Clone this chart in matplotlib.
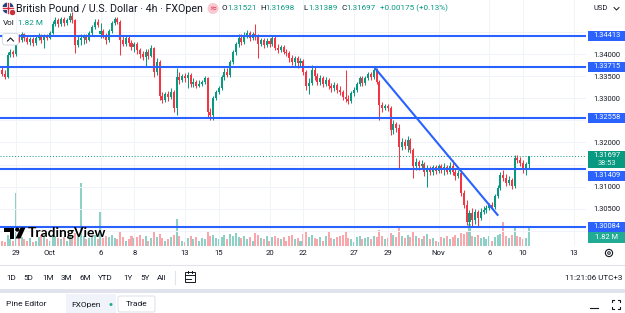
import matplotlib
matplotlib.use("Agg")
import matplotlib.pyplot as plt
import matplotlib.transforms as mtransforms
from matplotlib.patches import Rectangle, Circle, Polygon, FancyBboxPatch
from matplotlib.lines import Line2D
import numpy as np

plt.rcParams['font.family'] = ['Roboto', 'DejaVu Sans']

# ---------------- data (GBP/USD, 4h candles) ----------------
opens = [1.33642, 1.33552, 1.33484, 1.33982, 1.34050, 1.34005, 1.34413, 1.34322, 1.34458, 1.34368,
         1.34277, 1.34345, 1.34254, 1.34368, 1.34436, 1.34322, 1.34413, 1.34368, 1.34481, 1.34685,
         1.34776, 1.34685, 1.34798, 1.34708, 1.34776, 1.34866, 1.34776, 1.34209, 1.34322, 1.34368,
         1.34413, 1.34322, 1.34481, 1.34617, 1.34730, 1.34458, 1.34526, 1.34413, 1.34322, 1.34526,
         1.34708, 1.34798, 1.34730, 1.34322, 1.34232, 1.34368, 1.34254, 1.34164, 1.34232, 1.34096,
         1.34005, 1.33937, 1.34050, 1.33960, 1.34141, 1.33597, 1.33824, 1.33053, 1.32962, 1.33098,
         1.33030, 1.33144, 1.32781, 1.33484, 1.33416, 1.33506, 1.33461, 1.33529, 1.33325, 1.33370,
         1.33280, 1.33325, 1.33370, 1.33461, 1.32690, 1.32622, 1.33008, 1.33144, 1.33234, 1.33484,
         1.33597, 1.33529, 1.33824, 1.34050, 1.34232, 1.34368, 1.34277, 1.34413, 1.34481, 1.34368,
         1.34458, 1.34413, 1.34232, 1.34322, 1.34209, 1.34300, 1.34232, 1.34368, 1.34141, 1.34096,
         1.34164, 1.34050, 1.34028, 1.33914, 1.33824, 1.33914, 1.33801, 1.33846, 1.33597, 1.33280,
         1.33348, 1.33642, 1.33506, 1.33370, 1.33461, 1.33325, 1.33416, 1.33280, 1.33234, 1.33302,
         1.33189, 1.33144, 1.33030, 1.32985, 1.32940, 1.33121, 1.33189, 1.33325, 1.33461, 1.33348,
         1.33461, 1.33552, 1.33484, 1.33642, 1.33370, 1.32849, 1.32781, 1.32826, 1.32781, 1.32282,
         1.32418, 1.32328, 1.31897, 1.32010, 1.31920, 1.32056, 1.31829, 1.31466, 1.31557, 1.31466,
         1.31512, 1.31330, 1.31421, 1.31330, 1.31444, 1.31353, 1.31466, 1.31376, 1.31444, 1.31330,
         1.31466, 1.31330, 1.31240, 1.31308, 1.30854, 1.30582, 1.30197, 1.30401, 1.30242, 1.30424,
         1.30288, 1.30424, 1.30469, 1.30514, 1.30582, 1.30537, 1.30786, 1.30968, 1.31262, 1.31194,
         1.31081, 1.31149, 1.31013, 1.31648, 1.31602, 1.31534, 1.31376, 1.31521]
highs = [1.33733, 1.33642, 1.34050, 1.34118, 1.34096, 1.34481, 1.34458, 1.34504, 1.34481, 1.34413,
         1.34390, 1.34390, 1.34413, 1.34481, 1.34458, 1.34458, 1.34458, 1.34526, 1.34753, 1.34844,
         1.34821, 1.34844, 1.34844, 1.34821, 1.34934, 1.34957, 1.34798, 1.34436, 1.34458, 1.34458,
         1.34458, 1.34526, 1.34662, 1.34798, 1.34798, 1.34708, 1.34572, 1.34481, 1.34572, 1.34753,
         1.34844, 1.34844, 1.34776, 1.34413, 1.34413, 1.34413, 1.34322, 1.34277, 1.34277, 1.34141,
         1.34073, 1.34118, 1.34118, 1.34209, 1.34164, 1.33914, 1.33869, 1.33144, 1.33144, 1.33166,
         1.33234, 1.33189, 1.33688, 1.33597, 1.33552, 1.33574, 1.33597, 1.33574, 1.33461, 1.33416,
         1.33416, 1.33416, 1.33506, 1.33484, 1.32781, 1.33053, 1.33189, 1.33280, 1.33529, 1.33688,
         1.33688, 1.33869, 1.34096, 1.34277, 1.34458, 1.34458, 1.34504, 1.34549, 1.34526, 1.34504,
         1.34685, 1.34458, 1.34368, 1.34368, 1.34368, 1.34368, 1.34413, 1.34413, 1.34232, 1.34209,
         1.34209, 1.34118, 1.34073, 1.33982, 1.33960, 1.33960, 1.33914, 1.33892, 1.33642, 1.33461,
         1.33756, 1.33733, 1.33574, 1.33529, 1.33506, 1.33484, 1.33461, 1.33348, 1.33370, 1.33348,
         1.33280, 1.33189, 1.33642, 1.33076, 1.33166, 1.33257, 1.33370, 1.33506, 1.33506, 1.33506,
         1.33597, 1.33597, 1.33710, 1.33688, 1.33416, 1.32917, 1.32872, 1.32872, 1.32826, 1.32509,
         1.32464, 1.32418, 1.32101, 1.32078, 1.32146, 1.32101, 1.31874, 1.31648, 1.31602, 1.31602,
         1.31557, 1.31489, 1.31466, 1.31489, 1.31489, 1.31512, 1.31512, 1.31534, 1.31489, 1.31557,
         1.31602, 1.31421, 1.31376, 1.31330, 1.30922, 1.30696, 1.30469, 1.30514, 1.30492, 1.30469,
         1.30514, 1.30560, 1.30582, 1.30628, 1.30650, 1.30832, 1.31036, 1.31330, 1.31376, 1.31285,
         1.31240, 1.31194, 1.31716, 1.31716, 1.31670, 1.31602, 1.31557, 1.31698]
lows = [1.33506, 1.33438, 1.33461, 1.33937, 1.33937, 1.33960, 1.34277, 1.34277, 1.34300, 1.34232,
        1.34209, 1.34186, 1.34209, 1.34322, 1.34254, 1.34141, 1.34322, 1.34345, 1.34458, 1.34640,
        1.34617, 1.34640, 1.34640, 1.34662, 1.34730, 1.34708, 1.34028, 1.34164, 1.34209, 1.34232,
        1.34254, 1.34300, 1.34436, 1.34572, 1.34617, 1.34368, 1.34368, 1.34232, 1.34277, 1.34481,
        1.34662, 1.34685, 1.33982, 1.34186, 1.34186, 1.34186, 1.34096, 1.34050, 1.34005, 1.33914,
        1.33869, 1.33733, 1.33892, 1.33937, 1.33484, 1.33529, 1.32962, 1.32894, 1.32917, 1.32940,
        1.32985, 1.32690, 1.32622, 1.33325, 1.33370, 1.33370, 1.33234, 1.33257, 1.33257, 1.33234,
        1.33257, 1.33280, 1.33325, 1.32554, 1.32509, 1.32509, 1.32962, 1.33098, 1.33189, 1.33416,
        1.33484, 1.33484, 1.33778, 1.33982, 1.34164, 1.34209, 1.34232, 1.34368, 1.34300, 1.34322,
        1.34322, 1.33914, 1.34186, 1.34141, 1.34164, 1.34164, 1.34186, 1.34096, 1.34028, 1.34050,
        1.34005, 1.33960, 1.33824, 1.33756, 1.33733, 1.33688, 1.33733, 1.33529, 1.33189, 1.33098,
        1.33302, 1.33416, 1.33302, 1.33302, 1.33257, 1.33280, 1.33212, 1.33144, 1.33166, 1.33121,
        1.33076, 1.32962, 1.32917, 1.32872, 1.32894, 1.33053, 1.33144, 1.33280, 1.33280, 1.33302,
        1.33416, 1.33416, 1.33438, 1.33325, 1.32509, 1.32690, 1.32736, 1.32713, 1.32169, 1.32192,
        1.32237, 1.31421, 1.31829, 1.31852, 1.31784, 1.31761, 1.31194, 1.31376, 1.31376, 1.31421,
        1.31240, 1.30990, 1.31262, 1.31262, 1.31285, 1.31308, 1.31308, 1.31262, 1.31285, 1.31285,
        1.31262, 1.31149, 1.31194, 1.30786, 1.30514, 1.30129, 1.30106, 1.30106, 1.30152, 1.30106,
        1.30242, 1.30378, 1.30401, 1.30469, 1.30492, 1.30492, 1.30741, 1.30922, 1.31126, 1.31013,
        1.31036, 1.30945, 1.30968, 1.31534, 1.31466, 1.31308, 1.31262, 1.31389]
closes = [1.33552, 1.33484, 1.33982, 1.34050, 1.34005, 1.34413, 1.34322, 1.34458, 1.34368, 1.34277,
          1.34345, 1.34254, 1.34368, 1.34436, 1.34322, 1.34413, 1.34368, 1.34481, 1.34685, 1.34776,
          1.34685, 1.34798, 1.34708, 1.34776, 1.34866, 1.34776, 1.34209, 1.34322, 1.34368, 1.34413,
          1.34322, 1.34481, 1.34617, 1.34730, 1.34662, 1.34526, 1.34413, 1.34322, 1.34526, 1.34708,
          1.34798, 1.34730, 1.34322, 1.34232, 1.34368, 1.34254, 1.34164, 1.34232, 1.34096, 1.34005,
          1.33937, 1.34050, 1.33960, 1.34141, 1.33597, 1.33824, 1.33053, 1.32962, 1.33098, 1.33030,
          1.33144, 1.32781, 1.33484, 1.33416, 1.33506, 1.33461, 1.33529, 1.33325, 1.33370, 1.33280,
          1.33325, 1.33370, 1.33461, 1.32690, 1.32622, 1.33008, 1.33144, 1.33234, 1.33484, 1.33597,
          1.33529, 1.33824, 1.34050, 1.34232, 1.34368, 1.34277, 1.34413, 1.34481, 1.34368, 1.34458,
          1.34413, 1.34232, 1.34322, 1.34209, 1.34300, 1.34232, 1.34368, 1.34141, 1.34096, 1.34164,
          1.34050, 1.34028, 1.33914, 1.33824, 1.33914, 1.33801, 1.33846, 1.33597, 1.33280, 1.33348,
          1.33642, 1.33506, 1.33370, 1.33461, 1.33325, 1.33416, 1.33280, 1.33234, 1.33302, 1.33189,
          1.33144, 1.33030, 1.32985, 1.32940, 1.33121, 1.33189, 1.33325, 1.33461, 1.33348, 1.33461,
          1.33552, 1.33484, 1.33642, 1.33370, 1.32849, 1.32781, 1.32826, 1.32781, 1.32282, 1.32418,
          1.32328, 1.31897, 1.32010, 1.31920, 1.32056, 1.31829, 1.31466, 1.31557, 1.31466, 1.31512,
          1.31330, 1.31421, 1.31330, 1.31444, 1.31353, 1.31466, 1.31376, 1.31444, 1.31330, 1.31466,
          1.31330, 1.31240, 1.31308, 1.30854, 1.30582, 1.30197, 1.30401, 1.30242, 1.30424, 1.30288,
          1.30424, 1.30469, 1.30514, 1.30582, 1.30537, 1.30786, 1.30968, 1.31262, 1.31194, 1.31081,
          1.31149, 1.31013, 1.31648, 1.31602, 1.31534, 1.31376, 1.31512, 1.31697]
volumes_m = [0.5, 0.4, 1.0, 0.6, 0.5, 4.8, 0.9, 0.8, 0.6, 0.5,
             0.7, 0.4, 0.5, 0.8, 1.0, 0.9, 0.6, 0.5, 1.1, 0.9,
             0.7, 0.6, 0.8, 0.5, 0.9, 0.7, 1.2, 0.8, 5.7, 0.9,
             0.6, 0.7, 0.8, 1.0, 0.6, 3.1, 0.7, 0.9, 0.8, 1.0,
             0.7, 0.6, 1.4, 0.8, 0.5, 0.6, 0.9, 0.7, 0.8, 1.0,
             0.6, 0.9, 0.5, 0.7, 1.3, 0.8, 1.1, 0.7, 0.5, 0.6,
             0.8, 1.0, 2.5, 0.9, 0.5, 0.4, 0.7, 0.9, 0.6, 0.8,
             0.5, 0.7, 0.6, 1.3, 0.9, 1.0, 0.7, 0.6, 0.8, 1.0,
             0.6, 1.1, 0.9, 1.2, 0.8, 0.7, 0.9, 0.6, 0.8, 0.5,
             1.2, 1.0, 0.7, 0.6, 0.9, 0.5, 0.8, 0.9, 0.7, 0.6,
             0.8, 0.5, 0.9, 1.0, 0.6, 0.7, 0.5, 1.1, 1.3, 0.8,
             1.0, 0.7, 0.6, 0.8, 0.5, 0.9, 1.3, 0.7, 0.6, 0.8,
             0.9, 1.0, 1.4, 0.7, 0.6, 0.4, 0.8, 0.9, 0.6, 0.7,
             0.8, 0.6, 0.9, 0.8, 1.5, 0.9, 0.6, 0.7, 1.2, 1.0,
             0.8, 1.6, 0.9, 0.7, 1.0, 0.8, 1.3, 0.9, 0.7, 0.6,
             0.9, 1.1, 0.6, 0.7, 0.5, 0.4, 0.8, 0.7, 0.9, 0.6,
             0.8, 1.0, 0.7, 1.2, 1.1, 1.4, 2.0, 0.9, 0.8, 1.0,
             0.7, 0.8, 0.6, 0.9, 0.5, 0.8, 1.0, 1.1, 2.2, 0.9,
             0.7, 1.0, 1.8, 0.9, 0.8, 0.6, 0.7, 1.82]

levels = [1.34413, 1.33715, 1.32558, 1.31409, 1.30084]
level_labels = ["1.34413", "1.33715", "1.32558", "1.31409", "1.30084"]
trend_x = [132.5, 176.2]
trend_y = [1.33681, 1.30340]

date_ticks = [5, 17, 35, 47, 65, 77, 95, 107, 125, 137, 155, 173, 185, 203]
date_labels = ["29", "Oct", "6", "8", "13", "15", "20", "22", "27", "29", "Nov", "6", "10", "13"]
price_ticks = [1.300, 1.305, 1.310, 1.315, 1.320, 1.325, 1.330, 1.335, 1.340, 1.345]
price_tick_labels = ["", "1.30500", "1.31000", "", "1.32000", "", "1.33000", "1.33500", "1.34000", ""]

ohlc_header = [("O", "1.31521"), ("H", "1.31698"), ("L", "1.31389"), ("C", "1.31697")]
change_text = "+0.00175 (+0.13%)"
last_volume_text = "1.82 M"
countdown = "38:53"
clock_text = "11:21:06 UTC+3"
range_buttons = ["1D", "5D", "1M", "3M", "6M", "YTD", "1Y", "5Y", "All"]

# ---------------- style ----------------
GREEN = '#089981'
RED = '#f23645'
BLUE = '#2962ff'
TEXT = '#131722'
GRID = '#f0f3fa'
W, H = 625, 313
IDT = mtransforms.IdentityTransform()

fig = plt.figure(figsize=(W / 100, H / 100), dpi=100)
fig.patch.set_facecolor('white')

AX_BOTTOM = 246
AX_RIGHT = 586
ax = fig.add_axes([0, 1 - AX_BOTTOM / H, AX_RIGHT / W, AX_BOTTOM / H])
axv = ax.twinx()
ax.set_zorder(axv.get_zorder() + 1)
ax.patch.set_visible(False)

n = len(closes)
idx = np.arange(n)
o = np.array(opens); c = np.array(closes); hi = np.array(highs); lo = np.array(lows)
up = c >= o
cols = np.where(up, GREEN, RED)

# volume
vcols = np.where(up, '#8dd0c5', '#f9a6ad')
axv.bar(idx, volumes_m, width=0.72, color=vcols, linewidth=0)
axv.set_ylim(0, 22.4)
axv.set_axis_off()

# candles
ax.vlines(idx, lo, hi, colors=cols, linewidth=0.75, zorder=3)
body_lo = np.minimum(o, c)
body_h = np.maximum(np.abs(c - o), 0.00005)
ax.bar(idx, body_h, bottom=body_lo, width=0.72, color=cols, linewidth=0, zorder=4)

# levels, trend, last price
for lv in levels:
    ax.axhline(lv, color=BLUE, lw=1.5, zorder=5)
ax.plot(trend_x, trend_y, color=BLUE, lw=1.5, zorder=5, solid_capstyle='butt')
ax.axhline(closes[-1], color=GREEN, lw=0.7, ls=(0, (1, 2)), zorder=2)

ax.set_xlim(-0.68, 207.36)
ax.set_ylim(1.29653, 1.35229)
ax.set_xticks(date_ticks)
ax.set_xticklabels(date_labels)
ax.yaxis.tick_right()
ax.set_yticks(price_ticks)
ax.set_yticklabels(price_tick_labels)
ax.tick_params(axis='x', length=0, pad=3, labelsize=5.6, labelcolor=TEXT)
ax.tick_params(axis='y', length=0, pad=5, labelsize=5.4, labelcolor=TEXT)
ax.grid(True, color=GRID, lw=0.7, zorder=0)
for s in ax.spines.values():
    s.set_visible(False)


def ypx(price):
    """top-based pixel row of a price, via the axes' data transform"""
    return H - ax.transData.transform((0, price))[1]


def T(x, y, s, size, color=TEXT, ha='left', va='center', weight='normal', family=None, z=10):
    kw = {}
    if family:
        kw['family'] = family
    fig.text(x, H - y, s, transform=IDT, fontsize=size, color=color, ha=ha, va=va,
             fontweight=weight, zorder=z, **kw)


def R(x0, y0, w, h, fc, ec='none', lw=0, z=8):
    fig.add_artist(Rectangle((x0, H - y0 - h), w, h, transform=IDT, facecolor=fc,
                             edgecolor=ec, linewidth=lw, zorder=z))


def L(xs, ys, color, lw=1.0, z=9):
    fig.add_artist(Line2D(xs, [H - y for y in ys], transform=IDT, color=color, lw=lw, zorder=z))


# price scale boxes
label_shift = [0, 0, 0, 7, 0]
for lv, lab, sh in zip(levels, level_labels, label_shift):
    yc = ypx(lv) + sh
    R(588, yc - 5, 37, 10, BLUE)
    T(606.5, yc, lab, 5.4, color='white', ha='center')
yl = ypx(closes[-1])
R(588, yl - 4.5, 37, 17, GREEN)
T(606.5, yl, f"{closes[-1]:.5f}", 5.4, color='white', ha='center')
T(606.5, yl + 8, countdown, 5.4, color='#e6f5f2', ha='center')
R(588, 232, 37, 11, '#22ab94')
T(606.5, 237.5, last_volume_text, 5.4, color='white', ha='center')

# header
fig.add_artist(Circle((8, H - 8), 6, transform=IDT, facecolor='#27407e', edgecolor='white', lw=0.5, zorder=9))
L([3, 13], [8, 8], 'white', 2.2, 10)
L([8, 8], [3, 13], 'white', 2.2, 10)
L([3, 13], [8, 8], '#d8283a', 1.0, 11)
L([8, 8], [3, 13], '#d8283a', 1.0, 11)
fig.add_artist(Circle((12.5, H - 12.5), 3.2, transform=IDT, facecolor='#c8313e', edgecolor='white', lw=0.6, zorder=12))
T(16, 8.5, "British Pound / U.S. Dollar · 4h · FXOpen", 7.7)
fig.add_artist(Circle((213, H - 8.5), 5.5, transform=IDT, facecolor='#f8c9d2', edgecolor='none', zorder=9))
T(213, 8.5, "≈", 6.2, color='#e0354b', ha='center', family=['DejaVu Sans'])
xs_letter = [222, 260, 303, 341]
for (lt, val), xl in zip(ohlc_header, xs_letter):
    T(xl, 8.5, lt, 5.9)
    T(xl + 4.9, 8.5, val, 5.9, color=GREEN)
T(380, 8.5, change_text, 5.9, color=GREEN)
T(593, 8.5, "USD", 5.4)
L([614, 616.5, 619], [7.5, 10, 7.5], TEXT, 0.7)
T(3, 23, "Vol", 5.9)
T(18.5, 23, last_volume_text, 5.9, color=GREEN)

# collapse button
fig.add_artist(FancyBboxPatch((2.5, H - 45), 16, 11.5, boxstyle='round,pad=0,rounding_size=2.5',
                              transform=IDT, facecolor='white', edgecolor='#d1d4dc', lw=0.6, zorder=9))
L([7.5, 10.5, 13.5], [41, 38, 41], TEXT, 0.8, 10)

# TradingView logo
fig.add_artist(Polygon([(3.5, H - 227.5), (14, H - 227.5), (14, H - 238.5), (9.5, H - 238.5),
                        (9.5, H - 231.5), (3.5, H - 231.5)], closed=True, transform=IDT,
                       facecolor='black', edgecolor='none', zorder=9))
fig.add_artist(Circle((17.3, H - 229.6), 2.1, transform=IDT, facecolor='black', edgecolor='none', zorder=9))
fig.add_artist(Polygon([(20.5, H - 227.5), (25.5, H - 227.5), (20.5, H - 238.5), (15.5, H - 238.5)],
                       closed=True, transform=IDT, facecolor='black', edgecolor='none', zorder=9))
T(28, 233, "TradingView", 9.9, color='black', weight='bold', family=['Lato', 'DejaVu Sans'])

# gear icon
fig.add_artist(Circle((609, H - 253), 3.6, transform=IDT, facecolor='none', edgecolor=TEXT, lw=0.8, zorder=9))
fig.add_artist(Circle((609, H - 253), 1.3, transform=IDT, facecolor='none', edgecolor=TEXT, lw=0.7, zorder=9))

# bottom toolbars
L([0, W], [264.5, 264.5], '#e0e3eb', 0.8)
xs_btn = [6, 23, 42, 61, 79, 98, 123, 140, 157]
for lab, xb in zip(range_buttons, xs_btn):
    T(xb, 277.5, lab, 5.9)
L([175, 175], [271, 284], '#e0e3eb', 0.8)
R(184.5, 272, 10.5, 10, 'none', ec=TEXT, lw=0.7, z=9)
L([184.5, 195], [274.5, 274.5], TEXT, 0.7)
L([187.5, 187.5], [270.5, 273], TEXT, 0.7)
L([192, 192], [270.5, 273], TEXT, 0.7)
L([186, 191], [279, 279], TEXT, 0.7)
T(622, 277.5, clock_text, 5.9, ha='right')
R(0, 289, W, 4, '#e0e3eb', z=7)
T(6, 304.5, "Pine Editor", 6.0)
R(66, 294, 50, 19, '#f0f3fa', z=7)
T(71, 304.5, "FXOpen", 6.0)
fig.add_artist(Circle((111, H - 304.5), 1.5, transform=IDT, facecolor='#22ab94', edgecolor='none', zorder=9))
fig.add_artist(FancyBboxPatch((118, H - 312), 37, 16, boxstyle='round,pad=0,rounding_size=2',
                              transform=IDT, facecolor='white', edgecolor='#e0e3eb', lw=0.8, zorder=8))
T(136.5, 304.5, "Trade", 6.0, ha='center')
L([590, 598], [307.5, 307.5], TEXT, 0.8)
L([612, 612, 614], [302, 300, 300], TEXT, 0.8)
L([618, 620, 620], [300, 300, 302], TEXT, 0.8)
L([612, 612, 614], [307, 309, 309], TEXT, 0.8)
L([618, 620, 620], [309, 309, 307], TEXT, 0.8)

fig.savefig("out.png", dpi=100)
